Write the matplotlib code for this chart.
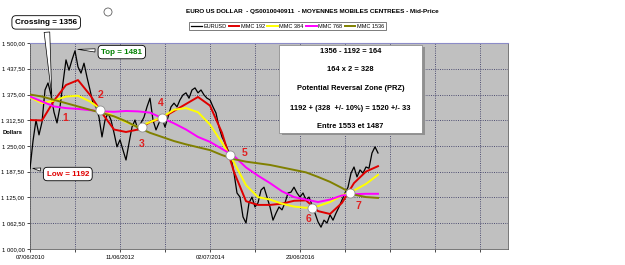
import numpy as np
import matplotlib
matplotlib.use("Agg")
import matplotlib.pyplot as plt
from matplotlib.patches import Rectangle, Ellipse

plt.rcParams['font.family'] = ['Liberation Sans', 'DejaVu Sans']

# x axis in "grid units" (one vertical gridline per unit); price every 1/15 unit
step_px = 1.0 / 15
eurusd = [1195, 1262, 1313, 1277, 1308, 1386, 1403, 1374, 1332, 1306,
          1345, 1403, 1459, 1434, 1459, 1481, 1442, 1427, 1451, 1417,
          1386, 1354, 1345, 1320, 1272, 1313, 1330, 1313, 1282, 1248,
          1265, 1240, 1216, 1257, 1296, 1313, 1289, 1306, 1320, 1345,
          1366, 1313, 1289, 1306, 1318, 1296, 1320, 1345, 1354, 1345,
          1362, 1374, 1379, 1366, 1386, 1391, 1379, 1386, 1374, 1366,
          1362, 1345, 1330, 1296, 1272, 1257, 1240, 1223, 1184, 1136,
          1126, 1078, 1063, 1112, 1126, 1102, 1112, 1143, 1150, 1126,
          1102, 1070, 1087, 1102, 1095, 1112, 1136, 1138, 1150, 1136,
          1126, 1136, 1119, 1126, 1107, 1087, 1066, 1053, 1070, 1063,
          1083, 1070, 1087, 1102, 1119, 1136, 1150, 1184, 1199, 1175,
          1192, 1184, 1199, 1196, 1233, 1248, 1233]

# moving averages sampled every 4 price points
mm_step = 4.0 / 15
mmc192 = [1313, 1312, 1360, 1398, 1410, 1374, 1330, 1290, 1284, 1290,
          1308, 1318, 1335, 1352, 1369, 1348, 1282, 1187, 1116, 1107,
          1107, 1110, 1117, 1118, 1092, 1085, 1112, 1160, 1188, 1201]
mmc384 = [1368, 1354, 1360, 1370, 1372, 1358, 1337, 1322, 1308, 1296,
          1308, 1320, 1338, 1342, 1332, 1302, 1258, 1210, 1155, 1126,
          1120, 1110, 1103, 1100, 1104, 1114, 1130, 1142, 1158, 1180]
mmc768 = [1370, 1358, 1346, 1342, 1340, 1337, 1334, 1333, 1335, 1334,
          1331, 1318, 1305, 1290, 1272, 1260, 1243, 1226, 1198, 1178,
          1160, 1140, 1126, 1120, 1114, 1120, 1130, 1133, 1134, 1134]
mmc1536 = [1375, 1370, 1362, 1354, 1346, 1338, 1330, 1322, 1310, 1295,
           1282, 1272, 1262, 1254, 1247, 1240, 1228, 1218, 1212, 1208,
           1204, 1198, 1192, 1186, 1175, 1163, 1148, 1132, 1126, 1124]

# crossings (white dots) and their numbers
cross_t = [1.56, 2.49, 2.93, 4.44, 6.27, 7.11]
cross_v = [1337, 1296, 1318, 1228, 1100, 1136]
num_lbl = ['1', '2', '3', '4', '5', '6', '7']
num_t = [0.78, 1.56, 2.49, 2.91, 4.76, 6.18, 7.29]
num_v = [1318, 1374, 1255, 1354, 1233, 1073, 1104]

yticks = [1000, 1062.5, 1125, 1187.5, 1250, 1312.5, 1375, 1437.5, 1500]
xlabels = ['07/06/2010', '', '11/06/2012', '', '02/07/2014', '', '23/06/2016',
           '', '', '', '']

fig = plt.figure(figsize=(6.25, 2.65), dpi=100)
ax = fig.add_axes([30/625, 16/265, 478/625, 206/265])
ax.set_facecolor('#c0c0c0')

t_px = np.arange(len(eurusd)) * step_px
t_mm = np.arange(len(mmc192)) * mm_step
ax.plot(t_px, eurusd, color='black', lw=0.9, label='EURUSD', zorder=3)
ax.plot(t_mm, mmc192, color='#e00000', lw=1.4, label='MMC 192', zorder=4)
ax.plot(t_mm, mmc384, color='#ffff00', lw=1.4, label='MMC 384', zorder=4)
ax.plot(t_mm, mmc768, color='#ff00ff', lw=1.4, label='MMC 768', zorder=4)
ax.plot(t_mm, mmc1536, color='#808000', lw=1.4, label='MMC 1536', zorder=4)
ax.plot(cross_t, cross_v, 'o', ms=6.5, mfc='white', mec='#909090', mew=0.6, zorder=6)
for s, x, y in zip(num_lbl, num_t, num_v):
    ax.text(x, y, s, color='#e02020', fontsize=7.5, fontweight='bold',
            ha='center', va='center', zorder=7)

ax.set_xlim(0, 478/45)
ax.set_ylim(1000, 1500)
ax.set_yticks(yticks)
ax.set_yticklabels([('%.2f' % v).replace('.', ',')[:-6] + ' ' +
                    ('%.2f' % v).replace('.', ',')[-6:] for v in yticks])
ax.set_xticks(range(11))
ax.set_xticklabels(xlabels)
ax.tick_params(labelsize=4.2, length=2.5, width=0.5, pad=1.5, colors='black')
ax.grid(True, color='#404068', ls=(0, (1.2, 1.5)), lw=0.6)
for k in ['left', 'bottom', 'right']:
    ax.spines[k].set_color('#606060')
    ax.spines[k].set_linewidth(0.6)
ax.spines['top'].set_color('#8c8cc8')
ax.spines['top'].set_linewidth(0.8)

# callouts
bub = dict(boxstyle='round,pad=0.4,rounding_size=0.5', fc='white', ec='black', lw=0.6)
ax.annotate('Crossing = 1356', xy=(0.49, 1362), xytext=(0.36, 1550),
            fontsize=5.8, fontweight='bold', ha='center', va='center',
            bbox=bub, annotation_clip=False, zorder=8,
            arrowprops=dict(arrowstyle='wedge,tail_width=0.7,shrink_factor=0.5',
                            fc='white', ec='black', lw=0.5))
ax.annotate('Top = 1481', xy=(1.0, 1485), xytext=(2.04, 1478),
            fontsize=5.8, fontweight='bold', color='#008000', ha='center', va='center',
            bbox=bub, zorder=8,
            arrowprops=dict(arrowstyle='wedge,tail_width=0.4,shrink_factor=0.5',
                            fc='white', ec='black', lw=0.5))
ax.annotate('Low = 1192', xy=(0.0, 1197), xytext=(0.84, 1182),
            fontsize=5.8, fontweight='bold', color='#e00000', ha='center', va='center',
            bbox=bub, zorder=8, annotation_clip=False,
            arrowprops=dict(arrowstyle='wedge,tail_width=0.4,shrink_factor=0.5',
                            fc='white', ec='black', lw=0.5))

# calculation box
ax.add_patch(Rectangle((0.527, 0.553), 0.299, 0.427, transform=ax.transAxes,
                       fc='#909090', ec='none', zorder=8, clip_on=False))
ax.add_patch(Rectangle((0.521, 0.563), 0.299, 0.427, transform=ax.transAxes,
                       fc='white', ec='#808080', lw=0.5, zorder=9, clip_on=False))
box_lines = ['1356 - 1192 = 164', '164 x 2 = 328', 'Potential Reversal Zone (PRZ)',
             '1192 + (328  +/- 10%) = 1520 +/- 33', 'Entre 1553 et 1487']
for s, y in zip(box_lines, [0.961, 0.869, 0.777, 0.684, 0.597]):
    ax.text(0.6705, y, s, transform=ax.transAxes, fontsize=5.4, fontweight='bold',
            ha='center', va='center', zorder=10)

fig.text(0.5, 1 - 12/265, 'EURO US DOLLAR  - QS0010040911  - MOYENNES MOBILES CENTREES - Mid-Price',
         fontsize=4.6, fontweight='bold', ha='center', va='center')
fig.text(3/625, 1 - 133/265, 'Dollars', fontsize=4.2, fontweight='bold', ha='left', va='center')
leg = fig.legend(loc='center', bbox_to_anchor=(287.5/625, 1 - 26/265), ncol=5,
                 fontsize=4, frameon=True, fancybox=False, handlelength=1.9,
                 handletextpad=0.25, columnspacing=0.45, borderpad=0.35)
leg.get_frame().set_edgecolor('#404040')
leg.get_frame().set_linewidth(0.6)
fig.add_artist(Ellipse((108/625, 1 - 12/265), 8/625, 8/265, transform=fig.transFigure,
                       fc='white', ec='#606060', lw=0.6))

fig.savefig('out.png', dpi=100)
